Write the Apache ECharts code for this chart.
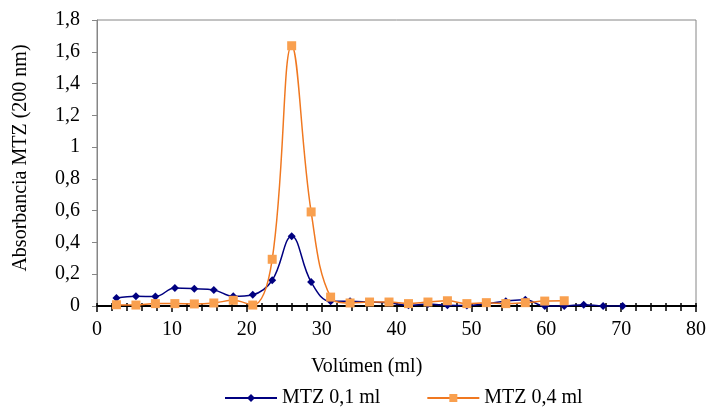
<!DOCTYPE html>
<html>
<head>
<meta charset="utf-8">
<script src="https://cdn.jsdelivr.net/npm/echarts@6/dist/echarts.min.js"></script>
<style>
html,body{margin:0;padding:0;background:#fff;}
#c{width:709px;height:410px;}
</style>
</head>
<body>
<div id="c"></div>
<script>
const volBlue = [2.6,5.2,7.8,10.4,13,15.6,18.2,20.8,23.4,26,28.6,31.2,33.8,36.4,39,41.6,44.2,46.8,49.4,52,54.6,57.2,59.8,62.4,65,67.6,70.2];
const absBlue = [0.05,0.061,0.06,0.113,0.109,0.101,0.061,0.071,0.162,0.439,0.151,0.03,0.03,0.025,0.02,0.005,0.012,0.005,0.003,0.015,0.03,0.04,0.0,0.0,0.008,0.0,0.0];
const volOrange = [2.6,5.2,7.8,10.4,13,15.6,18.2,20.8,23.4,26,28.6,31.2,33.8,36.4,39,41.6,44.2,46.8,49.4,52,54.6,57.2,59.8,62.4];
const absOrange = [0.008,0.006,0.015,0.015,0.013,0.019,0.036,0.006,0.294,1.638,0.592,0.056,0.019,0.025,0.025,0.015,0.025,0.033,0.015,0.021,0.015,0.021,0.031,0.033];
const seriesNames = ['MTZ 0,1 ml','MTZ 0,4 ml'];
const xTitle = 'Volúmen (ml)';
const yTitle = 'Absorbancia MTZ (200 nm)';

const FONT = '"Liberation Serif","Times New Roman",serif';
const chart = echarts.init(document.getElementById('c'));
const pairs = (xs, ys) => xs.map((x, i) => [x, ys[i]]);
const fmtY = v => String(Math.round(v * 10) / 10).replace('.', ',');

chart.setOption({
  animation: false,
  backgroundColor: '#fff',
  grid: {left: 97, right: 13, top: 20, bottom: 104, show: true, borderColor: '#868686', borderWidth: 1},
  xAxis: [
    {type: 'value', min: 0, max: 80, interval: 10,
     axisLine: {show: true, lineStyle: {color: '#000', width: 2}},
     axisTick: {show: true, inside: false, length: 6, lineStyle: {color: '#000', width: 1.5}},
     minorTick: {show: true, splitNumber: 5, length: 5, lineStyle: {color: '#000', width: 1.5}},
     axisLabel: {color: '#000', fontFamily: FONT, fontSize: 20, margin: 14},
     splitLine: {show: false}},
    {type: 'value', min: 0, max: 80, interval: 10, position: 'bottom',
     axisLine: {show: false},
     axisTick: {show: true, inside: true, length: 3, lineStyle: {color: '#000', width: 1.5}},
     minorTick: {show: true, splitNumber: 5, length: 3, lineStyle: {color: '#000', width: 1.5}},
     axisLabel: {show: false},
     splitLine: {show: false}}
  ],
  yAxis: {type: 'value', min: 0, max: 1.8, interval: 0.2,
    axisLine: {show: true, lineStyle: {color: '#868686', width: 1}},
    axisTick: {show: true, inside: false, length: 5, lineStyle: {color: '#868686'}},
    axisLabel: {color: '#000', fontFamily: FONT, fontSize: 20, margin: 17, formatter: fmtY},
    splitLine: {show: false}},
  legend: {
    left: 219, top: 383, itemWidth: 52, itemHeight: 10, itemGap: 46,
    textStyle: {color: '#000', fontFamily: FONT, fontSize: 20},
    data: seriesNames
  },
  graphic: [
    {type: 'text', style: {text: xTitle, font: '20px ' + FONT, fill: '#000'}, top: 357, left: 311},
    {type: 'text', style: {text: yTitle, font: '20px ' + FONT, fill: '#000', textAlign: 'center', textVerticalAlign: 'middle'}, x: 21, y: 158, rotation: Math.PI / 2}
  ],
  series: [
    {name: seriesNames[0], type: 'line', xAxisIndex: 0, data: pairs(volBlue, absBlue), smooth: 0.4,
     symbol: 'diamond', symbolSize: 8, showAllSymbol: true,
     lineStyle: {color: '#000080', width: 1.5}, itemStyle: {color: '#000080'}, z: 2},
    {name: seriesNames[1], type: 'line', xAxisIndex: 0, data: pairs(volOrange, absOrange), smooth: 0.4,
     symbol: 'rect', symbolSize: 9, showAllSymbol: true,
     lineStyle: {color: '#F07820', width: 1.5}, itemStyle: {color: '#F9A04F'}, z: 3}
  ]
});
</script>
</body>
</html>
